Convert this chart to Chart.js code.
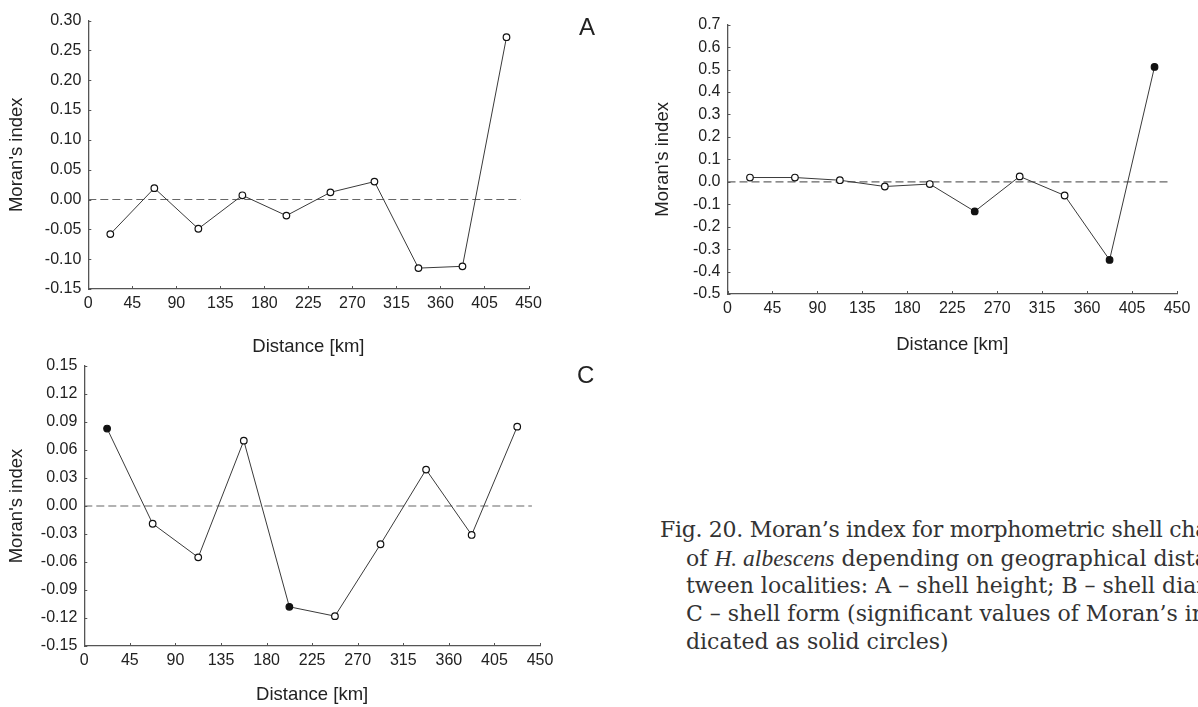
<!DOCTYPE html>
<html>
<head>
<meta charset="utf-8">
<script src="https://cdn.jsdelivr.net/npm/chart.js@4.4.1/dist/chart.umd.min.js"></script>
<style>
  html, body { margin: 0; padding: 0; background: #fff; }
  body { width: 1198px; height: 707px; position: relative; overflow: hidden; }
  canvas { position: absolute; }
  .panel { position: absolute; font-family: 'Liberation Sans', Arial, sans-serif; font-size: 24px; line-height: 1; color: #222; }
  .caption { position: absolute; font-family: 'DejaVu Serif', serif; font-size: 22px; line-height: 28px; color: #333; white-space: nowrap; }
  .caption i { font-family: 'Liberation Serif', serif; font-size: 23.5px; }
</style>
</head>
<body>
<canvas id="chartA" width="600" height="360" style="left:0;top:0"></canvas>
<canvas id="chartB" width="558" height="360" style="left:640px;top:0"></canvas>
<canvas id="chartC" width="600" height="377" style="left:0;top:330px"></canvas>
<div class="panel" style="left:579px;top:15px">A</div>
<div class="panel" style="left:577px;top:363px">C</div>
<div class="caption" style="left:660px;top:516px;letter-spacing:-0.3px">Fig. 20. Moran’s index for morphometric shell characters</div>
<div class="caption" style="left:686px;top:544px">of <i>H. albescens</i> depending on geographical distance be-</div>
<div class="caption" style="left:686px;top:572px">tween localities: A – shell height; B – shell diameter;</div>
<div class="caption" style="left:686px;top:600px">C – shell form (significant values of Moran’s index in-</div>
<div class="caption" style="left:686px;top:628px">dicated as solid circles)</div>
<script>
    // distance classes (km), same for all three panels
    const distances = [22.5, 67.5, 112.5, 157.5, 202.5, 247.5, 292.5, 337.5, 382.5, 427.5];
    const distanceTicks = [0, 45, 90, 135, 180, 225, 270, 315, 360, 405, 450];

    // A - shell height
    const heightIndex = [-0.058, 0.019, -0.049, 0.007, -0.027, 0.012, 0.030, -0.115, -0.112, 0.272];
    const heightSignificant = [false, false, false, false, false, false, false, false, false, false];
    const heightTicks = [-0.15, -0.10, -0.05, 0.00, 0.05, 0.10, 0.15, 0.20, 0.25, 0.30];

    // B - shell diameter
    const diameterIndex = [0.019, 0.019, 0.007, -0.021, -0.010, -0.132, 0.024, -0.061, -0.348, 0.512];
    const diameterSignificant = [false, false, false, false, false, true, false, false, true, true];
    const diameterTicks = [-0.5, -0.4, -0.3, -0.2, -0.1, 0.0, 0.1, 0.2, 0.3, 0.4, 0.5, 0.6, 0.7];

    // C - shell form
    const formIndex = [0.083, -0.019, -0.055, 0.070, -0.108, -0.118, -0.041, 0.039, -0.031, 0.085];
    const formSignificant = [true, false, false, false, true, false, false, false, false, false];
    const formTicks = [-0.15, -0.12, -0.09, -0.06, -0.03, 0.00, 0.03, 0.06, 0.09, 0.12, 0.15];

    const zeroLine = [0, 442];

    const TEXT_COLOR = '#222';
    const AXIS_COLOR = '#555';
    const LINE_COLOR = '#3a3a3a';

    Chart.defaults.font.family = "'Liberation Sans', Arial, sans-serif";

    // small tick marks pointing into the plot area
    const innerTicks = {
    id: 'innerTicks',
    afterDraw(chart) {
    const {ctx, scales: {x, y}} = chart;
    ctx.save();
    ctx.strokeStyle = AXIS_COLOR;
    ctx.lineWidth = 1;
    ctx.beginPath();
    x.ticks.forEach(t => {
    const px = Math.round(x.getPixelForValue(t.value)) + 0.5;
    ctx.moveTo(px, y.bottom);
    ctx.lineTo(px, y.bottom - 3);
});
    y.ticks.forEach(t => {
    const py = Math.round(y.getPixelForValue(t.value)) + 0.5;
    ctx.moveTo(x.left, py);
    ctx.lineTo(x.left + 3, py);
});
    ctx.stroke();
    ctx.restore();
}
};

    plotMoran('chartA', heightIndex, heightSignificant, heightTicks, 2,
    {top: 20.5, right: 71.5, yWidth: 88.3, xHeight: 71, yTitlePad: 6, xTitlePad: 2});
    plotMoran('chartB', diameterIndex, diameterSignificant, diameterTicks, 1,
    {top: 24.7, right: 21, yWidth: 87.5, xHeight: 66, yTitlePad: 12, xTitlePad: 4});
    plotMoran('chartC', formIndex, formSignificant, formTicks, 2,
    {top: 36, right: 60, yWidth: 84.3, xHeight: 61, yTitlePad: 6, xTitlePad: 1});

    function plotMoran(canvasId, values, significant, yTicks, decimals, box) {
    const points = distances.map((d, i) => ({x: d, y: values[i]}));
    const data = {
    datasets: [
{
    label: "Moran's index",
    data: points,
    showLine: true,
    borderColor: LINE_COLOR,
    borderWidth: 1,
    pointRadius: 3.3,
    pointBorderWidth: 1.2,
    pointBorderColor: '#111',
    pointBackgroundColor: significant.map(s => s ? '#111' : '#fff'),
    order: 0
},
{
    label: 'zero',
    data: zeroLine.map(d => ({x: d, y: 0})),
    showLine: true,
    borderColor: '#666',
    borderWidth: 1.2,
    borderDash: [8, 4],
    pointRadius: 0,
    order: 1
}]
};

    return new Chart(document.getElementById(canvasId).getContext('2d'), {
    type: 'scatter',
    data: data,
    options: {
    responsive: false,
    animation: false,
    devicePixelRatio: 1,
    layout: {
    padding: {top: box.top, right: box.right, bottom: 0, left: 0}
},
    plugins: {
    legend: {display: false},
    tooltip: {enabled: false}
},
    scales: {
    x: {
    type: 'linear',
    min: distanceTicks[0],
    max: distanceTicks[distanceTicks.length - 1],
    afterBuildTicks: s => { s.ticks = distanceTicks.map(v => ({value: v})); },
    afterFit: s => { s.height = box.xHeight; },
    grid: {display: false, drawTicks: false},
    border: {display: true, color: AXIS_COLOR, width: 1.3},
    ticks: {padding: 5, color: TEXT_COLOR, font: {size: 16}, maxRotation: 0, callback: v => String(v)},
    title: {display: true, text: 'Distance [km]', color: TEXT_COLOR, font: {size: 18.5}, padding: {top: 0, bottom: box.xTitlePad}}
},
    y: {
    type: 'linear',
    min: yTicks[0],
    max: yTicks[yTicks.length - 1],
    afterBuildTicks: s => { s.ticks = yTicks.map(v => ({value: v})); },
    afterFit: s => { s.width = box.yWidth; },
    grid: {display: false, drawTicks: false},
    border: {display: true, color: AXIS_COLOR, width: 1.3},
    ticks: {padding: 7, color: TEXT_COLOR, font: {size: 16}, callback: v => v.toFixed(decimals)},
    title: {display: true, text: "Moran's index", color: TEXT_COLOR, font: {size: 18.5}, padding: {top: box.yTitlePad, bottom: 0}}
}
}
},
    plugins: [innerTicks]
});
}
</script>
</body>
</html>
